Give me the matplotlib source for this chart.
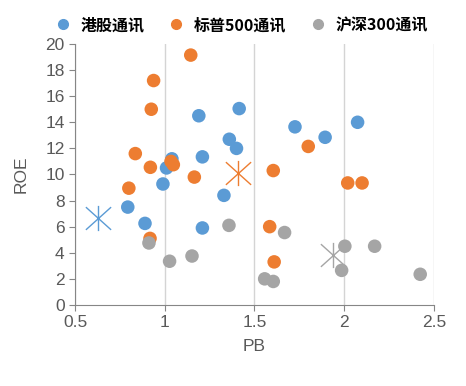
import matplotlib.pyplot as plt
from matplotlib.lines import Line2D
from matplotlib.path import Path

plt.rcParams['font.family'] = ['Liberation Sans', 'Noto Sans CJK SC', 'DejaVu Sans']

# 港股通讯
hk_pb = [0.794, 0.89, 0.99, 1.01, 1.04, 1.19, 1.21, 1.21, 1.33, 1.36, 1.40, 1.415, 1.726, 1.894, 2.075]
hk_roe = [7.5, 6.25, 9.27, 10.5, 11.2, 14.5, 11.35, 5.9, 8.4, 12.7, 12.0, 15.05, 13.65, 12.85, 14.0]
hk_mean = (0.63, 6.7)

# 标普500通讯
sp_pb = [1.145, 0.938, 0.925, 0.836, 0.92, 1.035, 1.048, 1.165, 0.80, 0.918, 1.80, 1.605, 2.02, 2.10, 1.585, 1.61]
sp_roe = [19.15, 17.2, 15.0, 11.6, 10.55, 11.0, 10.75, 9.8, 8.95, 5.1, 12.15, 10.3, 9.35, 9.35, 6.0, 3.3]
sp_mean = (1.41, 10.15)

# 沪深300通讯
cs_pb = [0.912, 1.027, 1.152, 1.358, 1.668, 1.557, 1.605, 2.004, 2.17, 1.986, 2.424]
cs_roe = [4.75, 3.35, 3.75, 6.1, 5.55, 2.0, 1.8, 4.5, 4.5, 2.65, 2.35]
cs_mean = (1.94, 3.85)

labels = ['港股通讯', '标普500通讯', '沪深300通讯']
colors = ['#5B9BD5', '#ED7D31', '#A5A5A5']

# Excel-style asterisk: vertical bar plus an X
star = Path([(0, -1), (0, 1), (-1, -0.9), (1, 0.9), (-1, 0.9), (1, -0.9)],
            [Path.MOVETO, Path.LINETO, Path.MOVETO, Path.LINETO, Path.MOVETO, Path.LINETO])

fig = plt.figure(figsize=(4.66, 3.86), dpi=100)
ax = fig.add_axes([0.161, 0.210, 0.770, 0.676])

series = [(hk_pb, hk_roe, hk_mean), (sp_pb, sp_roe, sp_mean), (cs_pb, cs_roe, cs_mean)]
for (xs, ys, mean), c in zip(series, colors):
    ax.scatter(xs, ys, s=95, color=c, edgecolors='none', zorder=3)
    ax.scatter([mean[0]], [mean[1]], s=330, marker=star, color=c, linewidths=1.0, zorder=3)

ax.set_xlim(0.5, 2.5)
ax.set_ylim(0, 20)
ax.set_xticks([0.5, 1, 1.5, 2, 2.5])
ax.set_xticklabels(['0.5', '1', '1.5', '2', '2.5'])
ax.set_yticks(range(0, 21, 2))
ax.grid(axis='x', color='#d4d4d4', linewidth=1)
ax.set_axisbelow(True)

for s in ['top', 'right']:
    ax.spines[s].set_visible(False)
for s in ['left', 'bottom']:
    ax.spines[s].set_color('#868686')
ax.tick_params(colors='#868686', labelcolor='#595959', labelsize=12.5, length=4, direction='out')

ax.set_xlabel('PB', fontsize=12.5, color='#595959', labelpad=6)
ax.set_ylabel('ROE', fontsize=12.5, color='#595959', labelpad=12)

handles = [Line2D([], [], marker='o', linestyle='', markersize=7, color=c) for c in colors]
fig.legend(handles, labels, loc='center', bbox_to_anchor=(0.51, 0.935), ncol=3,
           frameon=False, handletextpad=0.1, columnspacing=1.0,
           prop={'family': ['Noto Sans CJK SC', 'DejaVu Sans'], 'size': 11.5, 'weight': 'bold'})

fig.savefig('out.png', dpi=100)
